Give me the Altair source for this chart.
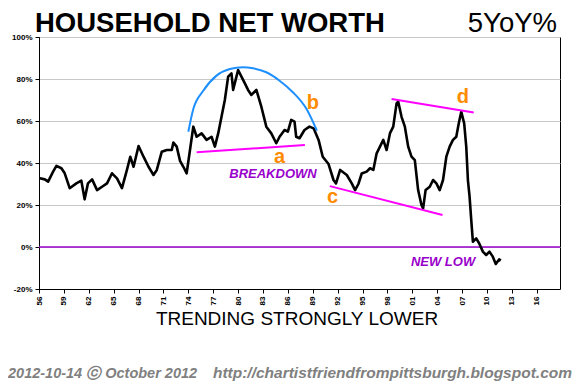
import altair as alt
import pandas as pd

# ---- data ----
years = [1956.1, 1956.7, 1957.1, 1957.7, 1958.1, 1958.7, 1959.1, 1959.7, 1960.5, 1961.1,
         1961.5, 1961.9, 1962.4, 1963.0, 1963.6, 1964.2, 1964.8, 1965.4, 1966.0, 1966.6,
         1967.0, 1967.4, 1968.0, 1968.6, 1969.2, 1969.8, 1970.2, 1970.8, 1971.4, 1972.0,
         1972.2, 1972.6, 1973.0, 1973.4, 1973.8, 1974.2, 1974.6, 1975.0, 1975.6, 1976.2,
         1976.8, 1977.2, 1977.6, 1978.0, 1978.4, 1978.8, 1979.2, 1979.4, 1979.8, 1980.0,
         1980.4, 1980.8, 1981.2, 1981.6, 1982.2, 1982.8, 1983.4, 1984.0, 1984.6, 1985.0,
         1985.6, 1986.0, 1986.4, 1986.8, 1987.0, 1987.4, 1988.0, 1988.6, 1989.1, 1989.7,
         1990.2, 1990.9, 1991.5, 1991.8, 1992.3, 1993.1, 1993.7, 1994.1, 1994.5, 1994.9,
         1995.5, 1995.9, 1996.3, 1996.7, 1997.1, 1997.5, 1997.9, 1998.3, 1998.7, 1999.1,
         1999.3, 1999.7, 2000.1, 2000.5, 2000.9, 2001.3, 2001.7, 2002.1, 2002.3, 2002.6,
         2003.1, 2003.5, 2003.9, 2004.3, 2004.7, 2005.1, 2005.5, 2005.9, 2006.3, 2006.6,
         2006.9, 2007.25, 2007.5, 2007.7, 2007.9, 2008.1, 2008.3, 2008.7, 2009.05, 2009.5,
         2009.9, 2010.3, 2010.7, 2011.06, 2011.46, 2011.66]
values = [32.7, 32.2, 31.1, 35.9, 38.6, 37.5, 35.1, 28.0, 30.3, 31.6,
          22.7, 30.3, 32.2, 27.1, 28.7, 30.3, 35.1, 32.7, 28.0, 36.7,
          43.0, 38.2, 48.1, 43.0, 38.2, 34.3, 36.7, 45.4, 46.2, 46.2,
          49.7, 47.8, 41.0, 38.2, 35.1, 46.2, 57.3, 52.5, 54.1, 51.0,
          52.5, 47.8, 54.1, 62.0, 70.0, 81.1, 82.7, 74.8, 81.1, 84.3,
          81.1, 78.0, 74.8, 72.4, 74.8, 66.8, 57.3, 54.1, 49.4, 52.5,
          55.7, 54.9, 60.5, 59.7, 52.5, 51.8, 55.7, 57.3, 56.5, 51.0,
          43.0, 39.5, 31.9, 30.3, 36.7, 34.3, 30.3, 27.1, 30.0, 35.0,
          35.9, 37.5, 36.7, 44.6, 47.8, 51.0, 46.2, 54.1, 57.3, 68.4,
          69.2, 62.0, 57.3, 47.8, 43.0, 41.4, 27.1, 20.0, 18.4, 27.1,
          28.7, 31.9, 30.3, 27.1, 31.9, 43.0, 47.8, 51.0, 52.5, 58.9,
          64.4, 58.9, 47.8, 31.9, 24.0, 12.9, 2.5, 4.1, 1.8, -2.2,
          -3.8, -2.2, -4.6, -8.1, -5.9, -6.5]

arc_years = [1974.0, 1974.6, 1975.8, 1977.4, 1979.0, 1980.6, 1981.8, 1983.4, 1985.0, 1986.6, 1988.25, 1989.5]
arc_values = [54.9, 65.7, 74.4, 81.6, 84.8, 85.6, 85.1, 83.2, 79.2, 73.7, 65.7, 55.4]

seg_names = ["a", "a", "c", "c", "d", "d"]
seg_years = [1975.0, 1988.05, 1991.06, 2004.64, 1998.5, 2008.4]
seg_values = [45.1, 48.6, 29.0, 15.2, 70.5, 64.1]

label_text = ["a", "b", "c", "d"]
label_years = [1985.0, 1989.0, 1991.4, 2007.1]
label_values = [42.9, 68.6, 23.8, 71.4]

note_text = ["BREAKDOWN", "NEW LOW"]
note_years = [1984.2, 2004.7]
note_values = [34.8, -7.1]

x_ticks = [1956, 1959, 1962, 1965, 1968, 1971, 1974, 1977, 1980, 1983, 1986,
           1989, 1992, 1995, 1998, 2001, 2004, 2007, 2010, 2013, 2016]
y_ticks = [-20, 0, 20, 40, 60, 80, 100]
zero_line = [0]

title_left = "HOUSEHOLD NET WORTH"
title_right = "5YoY%"
bottom_title = "TRENDING STRONGLY LOWER"
footer_left = "2012-10-14 ⓒ October 2012"
footer_right = "http://chartistfriendfrompittsburgh.blogspot.com"

# ---- frames ----
df = pd.DataFrame({"year": years, "pct": values})
arc_df = pd.DataFrame({"year": arc_years, "pct": arc_values})
seg_df = pd.DataFrame({"seg": seg_names, "year": seg_years, "pct": seg_values})
lab_df = pd.DataFrame({"t": label_text, "year": label_years, "pct": label_values})
note_df = pd.DataFrame({"t": note_text, "year": note_years, "pct": note_values})
zero_df = pd.DataFrame({"pct": zero_line})
one = pd.DataFrame({"k": [0]})

W, H = 521, 252
FONT = "Liberation Sans"

xs = alt.Scale(domain=[1956, 2018.8], nice=False, zero=False)
ys = alt.Scale(domain=[-20, 100], nice=False, zero=False)

x_axis = alt.Axis(values=x_ticks, format="d", labelExpr="substring(datum.label, 2, 4)",
                  labelAngle=270, labelAlign="right", labelBaseline="middle",
                  labelFontSize=8, labelFontWeight="bold", labelFont=FONT,
                  labelColor="#000", labelPadding=3, labelOverlap=False,
                  labelFlush=False, labelBound=False,
                  tickSize=4, tickColor="#000", domainColor="#000", grid=False)
y_axis = alt.Axis(values=y_ticks, labelExpr="datum.value + '%'",
                  labelFontSize=8, labelFontWeight="bold", labelFont=FONT,
                  labelColor="#000", labelPadding=3, tickSize=4, tickColor="#000",
                  labelOverlap=False, labelFlush=False,
                  domainColor="#000", grid=True, gridColor="#C8C8C8", gridWidth=1)
X = alt.X("year:Q", scale=xs, title=None, axis=x_axis)
Y = alt.Y("pct:Q", scale=ys, title=None, axis=y_axis)

base_line = alt.Chart(df).mark_line(color="#000", strokeWidth=2.6, strokeJoin="round").encode(x=X, y=Y)

zero_rule = alt.Chart(zero_df).mark_rule(color="#9900CC", strokeWidth=1.3).encode(y=Y)

arc = alt.Chart(arc_df).mark_line(color="#1E8FFF", strokeWidth=2, interpolate="monotone").encode(
    x=X, y=Y)

segs = alt.Chart(seg_df).mark_line(color="#FF00FF", strokeWidth=2).encode(
    x=X, y=Y, detail="seg:N")

labels = alt.Chart(lab_df).mark_text(color="#FF8C00", fontSize=20, fontWeight="bold", font=FONT,
                                     baseline="middle").encode(x=X, y=Y, text="t:N")

notes = alt.Chart(note_df).mark_text(color="#9900CC", fontSize=13, fontWeight="bold", font=FONT,
                                     fontStyle="italic", baseline="middle").encode(
    x=X, y=Y, text="t:N")

t1 = alt.Chart(one).mark_text(fontSize=27.5, fontWeight="bold", font=FONT, align="left",
                              baseline="alphabetic", color="#000").encode(
    x=alt.value(-4), y=alt.value(-5), text=alt.value(title_left))
t2 = alt.Chart(one).mark_text(fontSize=27.5, font=FONT, align="right",
                              baseline="alphabetic", color="#000").encode(
    x=alt.value(518), y=alt.value(-5), text=alt.value(title_right))
t3 = alt.Chart(one).mark_text(fontSize=19, font=FONT, align="center",
                              baseline="alphabetic", color="#000").encode(
    x=alt.value(258), y=alt.value(288), text=alt.value(bottom_title))
f1 = alt.Chart(one).mark_text(fontSize=14.5, font=FONT, fontWeight="bold", fontStyle="italic",
                              align="left", baseline="alphabetic", color="#808080").encode(
    x=alt.value(-31), y=alt.value(341), text=alt.value(footer_left))
f2 = alt.Chart(one).mark_text(fontSize=15.5, font=FONT, fontWeight="bold", fontStyle="italic",
                              align="right", baseline="alphabetic", color="#808080").encode(
    x=alt.value(533), y=alt.value(341), text=alt.value(footer_right))

chart = alt.layer(zero_rule, base_line, arc, segs, labels, notes, t1, t2, t3, f1, f2).properties(
    width=W, height=H,
    autosize=alt.AutoSizeParams(type="none"),
    padding={"left": 31, "top": 29, "right": 12, "bottom": 96},
    background="white",
).configure_view(stroke="#000", strokeWidth=1)

chart.save("out.html", embed_options={"renderer": "svg", "actions": False})
